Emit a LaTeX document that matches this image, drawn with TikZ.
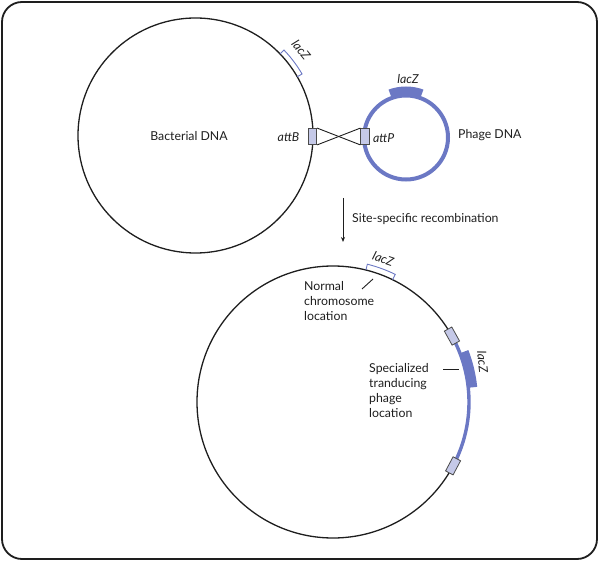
\documentclass[tikz,border=0pt]{standalone}
\usepackage{fontspec}
\setmainfont{Lato}
\usetikzlibrary{calc,arrows.meta}
\definecolor{dnablue}{HTML}{6B78C4}
\definecolor{boxfill}{HTML}{C5C9E8}
\definecolor{inkline}{HTML}{1E1E1E}
\tikzset{
  lbl/.style={font=\fontsize{12.3}{14.8}\selectfont, inner sep=0pt, text=inkline},
  itlbl/.style={lbl, font=\fontsize{12.3}{14.8}\selectfont\itshape},
  dnacircle/.style={circle, draw=inkline, line width=1.3pt, inner sep=0pt},
  attbox/.style={rectangle, draw=inkline!80, fill=boxfill, line width=0.8pt, minimum width=8.5pt, minimum height=16pt, inner sep=0pt},
  bracket/.style={draw=dnablue, line width=0.9pt},
  pointer/.style={draw=inkline, line width=0.9pt},
}
\begin{document}
\begin{tikzpicture}[x=1pt,y=-1pt]
\useasboundingbox (0,0) rectangle (600,561);
% frame
\draw[inkline, line width=1.8pt, rounded corners=20pt] (2,2) rectangle (597,559);

% ---------- top: bacterial DNA ----------
\coordinate (C1) at (195.5,135.5);
\node[dnacircle, minimum size=235pt] (bact) at (C1) {};
\node[lbl] (bactlbl) at (189,136) {Bacterial DNA};
\draw[bracket] ($(C1)+(-30:117.5)$) -- ($(C1)+(-30:123)$) arc[start angle=-30,end angle=-44,radius=123] -- ($(C1)+(-44:117.5)$);
\node[itlbl, rotate=-51] (lacz1) at ($(C1)+(-39:136)$) {lacZ};

% ---------- phage ----------
\coordinate (C2) at (406,137.5);
\node[circle, draw=dnablue, line width=4pt, minimum size=84pt, inner sep=0pt] (phage) at (C2) {};
\fill[dnablue] ($(C2)+(-70:41)$) arc[start angle=-70,end angle=-110,radius=41] -- ($(C2)+(-110:51)$) arc[start angle=-110,end angle=-70,radius=51] -- cycle;
\node[itlbl] (laczp) at (408,79) {lacZ};
\node[lbl, anchor=west] (phagelbl) at (458,135.5) {Phage DNA};

% att sites
\node[attbox] (attBbox) at (312.5,136.5) {};
\node[attbox] (attPbox) at (365,136.5) {};
\node[itlbl, anchor=east] (attBlbl) at (299.5,137.5) {attB};
\node[itlbl, anchor=west] (attPlbl) at (373,138.5) {attP};
\draw[inkline, line width=0.9pt] (attBbox.north east) -- (attPbox.south west);
\draw[inkline, line width=0.9pt] (attBbox.south east) -- (attPbox.north west);

% arrow
\coordinate (arrtop) at (343,198);
\coordinate (arrbot) at (343,242);
\draw[inkline, line width=0.9pt, -{Stealth[length=5pt,width=4pt]}] (arrtop) -- (arrbot);
\node[lbl, anchor=west] (recomb) at (352,219.5) {Site-specific recombination};

% ---------- bottom: recombinant chromosome ----------
\coordinate (C3) at (333,402);
\node[dnacircle, minimum size=272pt] (chrom) at (C3) {};
\draw[dnablue, line width=3.4pt] ($(C3)+(28:136)$) arc[start angle=28,end angle=-29,radius=136];
\fill[dnablue] ($(C3)+(-6:136)$) arc[start angle=-6,end angle=-21,radius=136] -- ($(C3)+(-21:145)$) arc[start angle=-21,end angle=-6,radius=145] -- cycle;
\node[attbox, rotate=29] (site1) at ($(C3)+(-29:136)$) {};
\node[attbox, rotate=-28] (site2) at ($(C3)+(28:136)$) {};
\node[itlbl, rotate=-84] (lacz3) at ($(C3)+(-15:155)$) {lacZ};

\draw[bracket] ($(C3)+(-64:136)$) -- ($(C3)+(-64:142)$) arc[start angle=-64,end angle=-76,radius=142] -- ($(C3)+(-76:136)$);
\node[itlbl, rotate=-19] (lacz2) at ($(C3)+(-70.7:152)$) {lacZ};

\node[lbl, anchor=north west, align=left] (normal) at (304,281.5) {Normal\\chromosome\\location};
\coordinate (np1) at (362,289);
\coordinate (np2) at (373,279);
\draw[pointer] (np1) -- (np2);

\node[lbl, anchor=north west, align=left] (special) at (369,363.5) {Specialized\\tranducing\\phage\\location};
\coordinate (sp1) at (443,369);
\coordinate (sp2) at (459,369);
\draw[pointer] (sp1) -- (sp2);
\end{tikzpicture}
\end{document}
